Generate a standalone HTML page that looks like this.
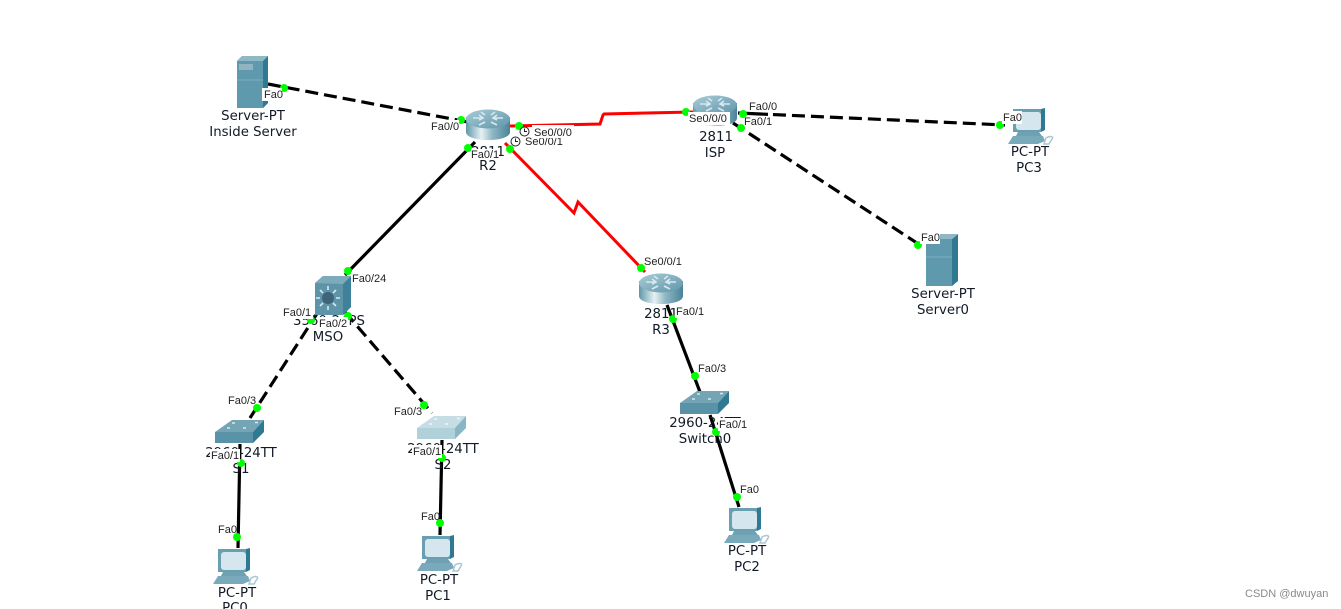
<!DOCTYPE html>
<html><head><meta charset="utf-8"><title>Network topology</title>
<style>
html,body{margin:0;padding:0;background:#fff}
svg{display:block}
.d{font:13.3px "DejaVu Sans","Liberation Sans",sans-serif;fill:#111a26;text-anchor:middle}
.p{font:11px "Liberation Sans",sans-serif;fill:#222}
.b{fill:#fff}
</style></head><body>
<svg width="1341" height="609" viewBox="0 0 1341 609" xmlns="http://www.w3.org/2000/svg">
<defs>
<linearGradient id="rg" x1="0" x2="1" y1="0" y2="0"><stop offset="0" stop-color="#5f97a8"/><stop offset=".35" stop-color="#e6f1f4"/><stop offset=".6" stop-color="#8fb7c4"/><stop offset="1" stop-color="#4a8398"/></linearGradient>
<linearGradient id="rt" x1="0" x2="1" y1="0" y2="1"><stop offset="0" stop-color="#a9ccd8"/><stop offset="1" stop-color="#5f96a9"/></linearGradient>
<g id="router">
<path d="M-22-8V7C-22 12-12 15 0 15S22 12 22 7V-8Z" fill="url(#rg)"/>
<ellipse cx="0" cy="-6" rx="22" ry="9.5" fill="url(#rt)"/>
<path d="M-15-7H-6M-9-10L-5-7-9-5M15-7H6M9-10L5-7 9-5M-3-3L-9 0M3-3L9 0M-3-10L-7-13M3-10L7-13" stroke="#d8e8ee" stroke-width="1.6" fill="none"/>
</g>
<g id="sw">
<path d="M0 12L17 0H49L38 12Z" fill="#74a5b5"/>
<path d="M0 12H38V23H0Z" fill="#5a93a8"/>
<path d="M38 12L49 0V12L38 23Z" fill="#2f7a92"/>
<path d="M17 3h3M40 2.500h3M12 8h3M28 8h3" stroke="#d8e8ee" stroke-width="1.500"/>
</g>
<g id="sw2">
<path d="M0 12L17 0H49L38 12Z" fill="#c6dde4"/>
<path d="M0 12H38V23H0Z" fill="#b0d0da"/>
<path d="M38 12L49 0V12L38 23Z" fill="#88b6c4"/>
<path d="M17 3h3M40 2.500h3M12 8h3M28 8h3" stroke="#eef6f8" stroke-width="1.500"/>
</g>
<g id="pc">
<path d="M5 1H33V24H5Z" fill="#6a9fb2"/>
<path d="M33 1L37 0V22L33 24Z" fill="#2f7a92"/>
<rect x="8" y="4" width="25" height="18" rx="3" fill="#d6e6ee"/>
<path d="M10 24H31L34 28H8Z" fill="#6ea2b3"/>
<path d="M5 28H35L37 33 30 36H0Z" fill="#79aabb"/>
<path d="M38 30C43 27 46 29 44 31L41 36H36Z" fill="none" stroke="#a9c8d3" stroke-width="1.500"/>
</g>
</defs>

<!-- links -->
<g fill="none" stroke="#000" stroke-width="3.2">
<path d="M268 84L468 122" stroke-dasharray="13 6"/>
<path d="M738 113L1005 125" stroke-dasharray="30 5 13 6 13 6 13 6 13 6 13 6 13 6 13 6 13 6 13 6 13 6 13 6 13 6 13 6"/>
<path d="M733 123L920 245" stroke-dasharray="13 6"/>
<path d="M318 312L250 418" stroke-dasharray="13 6"/>
<path d="M345 312L432 413" stroke-dasharray="13 6"/>
<path d="M475 142L345 275"/>
<path d="M240 444L238 548"/>
<path d="M442 440L440 535"/>
<path d="M667 305L700 392"/>
<path d="M710 415L739 507"/>
</g>
<g fill="none" stroke="#f00" stroke-width="3">
<path d="M510 126L600 124L603 115 L604 114L693 112"/>
<path d="M505 143L574 213L578 202L645 272"/>
</g>

<!-- server inside -->
<g>
<path d="M237 61L242 56H268V103L263 108H237Z" fill="#5f99ae"/>
<path d="M263 61L268 56V103L263 108Z" fill="#2f7a92"/>
<path d="M237 61H263L268 56H242Z" fill="#8fb8c6"/>
<rect x="239" y="64" width="14" height="6" fill="#8fb4c2"/>
<path d="M237 80H263" stroke="#7fadbd"/>
</g>
<!-- server0 -->
<g>
<path d="M926 239H952V286H926Z" fill="#5f99ae"/>
<path d="M952 239L958 234V281L952 286Z" fill="#2f7a92"/>
<path d="M931 239L937 234H958L952 239Z" fill="#8fb8c6"/>
<path d="M926 257H952" stroke="#7fadbd"/>
</g>

<use href="#router" x="488" y="125"/>
<use href="#router" x="715" y="111"/>
<use href="#router" x="661" y="289"/>

<!-- multilayer switch -->
<g>
<path d="M315 283L323 276H351V307L343 315H315Z" fill="#5e94a8"/>
<path d="M343 284L351 276V307L343 315Z" fill="#3f8198"/>
<path d="M315 283L323 276H351L343 284Z" fill="#7dabbb"/>
<circle cx="328" cy="298" r="6" fill="#3d6478"/>
<path d="M328 286V290M328 306V310M316 298H320M336 298H340M320 290L323 293M336 290L333 293M320 306L323 303M336 306L333 303" stroke="#d8e8ee" stroke-width="1.600"/>
</g>

<use href="#sw" x="215" y="420"/>
<use href="#sw2" x="417" y="416"/>
<use href="#sw" x="680" y="391"/>

<use href="#pc" x="213" y="548"/>
<use href="#pc" x="417" y="535"/>
<use href="#pc" x="724" y="507"/>
<use href="#pc" x="1008" y="108"/>

<!-- device labels -->
<g class="d">
<text x="253" y="120">Server-PT</text><text x="253" y="136">Inside Server</text>
<text x="488" y="156">2811</text><text x="488" y="170">R2</text>
<text x="716" y="141">2811</text><text x="715" y="157">ISP</text>
<text x="1030" y="156">PC-PT</text><text x="1029" y="172">PC3</text>
<text x="943" y="298">Server-PT</text><text x="943" y="314">Server0</text>
<text x="661" y="318">2811</text><text x="661" y="334">R3</text>
<text x="705" y="427">2960-24TT</text><text x="705" y="443">Switch0</text>
<text x="329" y="325">3560-24PS</text><text x="328" y="341">MSO</text>
<text x="241" y="457">2960-24TT</text><text x="241" y="473">S1</text>
<text x="443" y="453">2960-24TT</text><text x="443" y="469">S2</text>
<text x="237" y="597">PC-PT</text><text x="235" y="612">PC0</text>
<text x="439" y="584">PC-PT</text><text x="438" y="600">PC1</text>
<text x="747" y="555">PC-PT</text><text x="747" y="571">PC2</text>
</g>

<!-- port dots -->
<g fill="#0f0">
<circle cx="284" cy="88" r="4"/><circle cx="461" cy="120" r="4"/>
<circle cx="519" cy="126" r="4"/><circle cx="468" cy="148" r="4"/><circle cx="510" cy="149" r="4"/>
<circle cx="686" cy="112" r="4"/><circle cx="743" cy="114" r="4"/><circle cx="741" cy="128" r="4"/>
<circle cx="1000" cy="125" r="4"/><circle cx="918" cy="245" r="4"/>
<circle cx="348" cy="271" r="4"/><circle cx="311" cy="320" r="4"/><circle cx="348" cy="316" r="4"/>
<circle cx="257" cy="408" r="4"/><circle cx="424" cy="405" r="4"/>
<circle cx="241" cy="463" r="4"/><circle cx="442" cy="458" r="4"/>
<circle cx="237" cy="537" r="4"/><circle cx="440" cy="523" r="4"/>
<circle cx="641" cy="268" r="4"/><circle cx="673" cy="319" r="4"/>
<circle cx="695" cy="376" r="4"/><circle cx="716" cy="432" r="4"/><circle cx="737" cy="497" r="4"/>
</g>

<!-- port labels -->
<g class="p">
<rect class="b" x="262" y="88" width="20" height="13"/><text x="264" y="98">Fa0</text>
<rect class="b" x="430" y="120" width="29" height="13"/><text x="431" y="130">Fa0/0</text>
<text x="525" y="145">Se0/0/1</text>
<rect class="b" x="532" y="125" width="42" height="13"/><text x="534" y="136">Se0/0/0</text>
<rect class="b" x="471" y="149" width="28" height="11"/><text x="471" y="158">Fa0/1</text>
<rect class="b" x="688" y="112" width="42" height="13"/><text x="689" y="122">Se0/0/0</text>
<text x="749" y="110">Fa0/0</text><text x="744" y="125">Fa0/1</text>
<rect class="b" x="1002" y="111" width="20" height="13"/><text x="1003" y="121">Fa0</text>
<rect class="b" x="920" y="231" width="20" height="13"/><text x="921" y="241">Fa0</text>
<rect class="b" x="351" y="272" width="36" height="13"/><text x="352" y="282">Fa0/24</text>
<rect class="b" x="282" y="306" width="31" height="13"/><text x="283" y="316">Fa0/1</text>
<rect class="b" x="318" y="317" width="30" height="12"/><text x="319" y="327">Fa0/2</text>
<text x="228" y="404">Fa0/3</text><text x="394" y="415">Fa0/3</text>
<rect class="b" x="210" y="449" width="30" height="13"/><text x="211" y="459">Fa0/1</text>
<rect class="b" x="412" y="445" width="30" height="13"/><text x="413" y="455">Fa0/1</text>
<text x="218" y="533">Fa0</text><text x="421" y="520">Fa0</text>
<text x="644" y="265">Se0/0/1</text>
<rect class="b" x="675" y="305" width="30" height="13"/><text x="676" y="315">Fa0/1</text>
<text x="698" y="372">Fa0/3</text>
<rect class="b" x="718" y="418" width="30" height="13"/><text x="719" y="428">Fa0/1</text>
<text x="740" y="493">Fa0</text>
</g>

<!-- clocks -->
<g fill="#fff" stroke="#222" stroke-width="1">
<circle cx="524.500" cy="131.500" r="4.500"/><path d="M524.500 128.500V131.500H527" fill="none"/>
<circle cx="515.500" cy="141.500" r="4.500"/><path d="M515.500 138.500V141.500H518" fill="none"/>
</g>

<text x="1245" y="597" style="font:11px 'Liberation Sans',sans-serif" fill="#8a8a8a">CSDN @dwuyan</text>
</svg>
</body></html>
